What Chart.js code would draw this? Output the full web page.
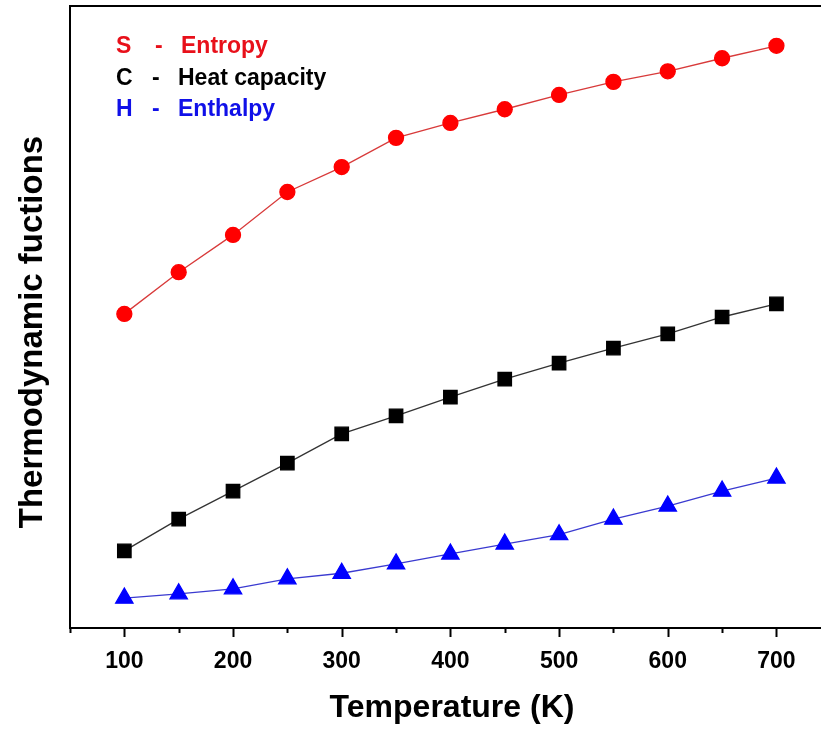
<!DOCTYPE html>
<html>
<head>
<meta charset="utf-8">
<script src="https://cdn.jsdelivr.net/npm/chart.js@4.4.1/dist/chart.umd.min.js"></script>
<style>
  html, body { margin: 0; padding: 0; background: #fff; overflow: hidden; }
  #wrap { width: 821px; height: 729px; }
</style>
</head>
<body>
<div id="wrap"><canvas id="chart"></canvas></div>
<script>
// Temperatures (K)
const temps = [100, 150, 200, 250, 300, 350, 400, 450, 500, 550, 600, 650, 700];
// Values (arbitrary units, no y scale shown)
const entropy = [50.5, 57.2, 63.2, 70.1, 74.1, 78.8, 81.2, 83.4, 85.7, 87.8, 89.5, 91.6, 93.6];
const heatCap = [12.4, 17.5, 22.0, 26.5, 31.2, 34.1, 37.1, 40.0, 42.6, 45.0, 47.3, 50.0, 52.1];
const enthalpy = [4.8, 5.5, 6.3, 7.9, 8.8, 10.3, 11.9, 13.5, 15.0, 17.5, 19.6, 22.0, 24.1];
const xTickLabels = [100, 200, 300, 400, 500, 600, 700];
const legendRows = [
  { sym: 'S', name: 'Entropy', color: '#e8101a' },
  { sym: 'C', name: 'Heat capacity', color: '#000000' },
  { sym: 'H', name: 'Enthalpy', color: '#1010e8' }
];

const FONT = '"Liberation Sans", Arial, sans-serif';

function pts(ys) {
  return temps.map((t, i) => ({ x: t, y: ys[i] }));
}

// top border, outward x ticks, axis titles and the text legend
const decor = {
  id: 'decor',
  afterDraw(chart) {
    const { ctx, chartArea: a, scales: { x } } = chart;
    ctx.save();
    ctx.strokeStyle = '#000';
    ctx.lineWidth = 2;
    ctx.beginPath();
    ctx.moveTo(a.left - 1, a.top);
    ctx.lineTo(chart.width, a.top);
    ctx.stroke();
    // ticks: long on hundreds, short on fifties
    x.ticks.forEach(t => {
      const px = Math.round(x.getPixelForValue(t.value)) + 0.5;
      const len = t.value % 100 === 0 ? 9 : 5;
      ctx.beginPath();
      ctx.moveTo(px, a.bottom);
      ctx.lineTo(px, a.bottom + len);
      ctx.stroke();
    });
    ctx.fillStyle = '#000';
    ctx.textAlign = 'center';
    ctx.textBaseline = 'middle';
    ctx.font = 'bold 32px ' + FONT;
    ctx.fillText('Temperature (K)', 452, 708);
    ctx.save();
    ctx.translate(33, 332);
    ctx.rotate(-Math.PI / 2);
    ctx.font = 'bold 33px ' + FONT;
    ctx.fillText('Thermodynamic fuctions', 0, 0);
    ctx.restore();
    // legend text
    ctx.textAlign = 'left';
    ctx.font = 'bold 23px ' + FONT;
    legendRows.forEach((r, i) => {
      const y = 47 + i * 31.5;
      ctx.fillStyle = r.color;
      ctx.fillText(r.sym, 116, y);
      ctx.fillText('-', i === 0 ? 155 : 152, y);
      ctx.fillText(r.name, i === 0 ? 181 : 178, y);
    });
    ctx.restore();
  }
};

new Chart(document.getElementById('chart'), {
  type: 'line',
  data: {
    datasets: [
      {
        label: 'S - Entropy',
        data: pts(entropy),
        borderColor: '#d83a3a',
        backgroundColor: '#ff0000',
        pointBorderColor: '#ff0000',
        pointStyle: 'circle',
        pointRadius: 7.5,
        borderWidth: 1.3
      },
      {
        label: 'C - Heat capacity',
        data: pts(heatCap),
        borderColor: '#333',
        backgroundColor: '#000',
        pointBorderColor: '#000',
        pointStyle: 'rect',
        pointRadius: 9.5,
        borderWidth: 1.3
      },
      {
        label: 'H - Enthalpy',
        data: pts(enthalpy),
        borderColor: '#3a3ad0',
        backgroundColor: '#0000ff',
        pointBorderColor: '#0000ff',
        pointStyle: 'triangle',
        pointRadius: 10,
        borderWidth: 1.3
      }
    ]
  },
  options: {
    responsive: true,
    maintainAspectRatio: false,
    animation: false,
    layout: { autoPadding: false, padding: { top: 6, right: 0, left: 70, bottom: 33 } },
    plugins: { legend: { display: false }, tooltip: { enabled: false } },
    scales: {
      x: {
        type: 'linear',
        min: 50,
        max: 741,
        afterBuildTicks: s => {
          s.ticks = [];
          for (let v = 50; v <= 700; v += 50) s.ticks.push({ value: v });
        },
        grid: { display: false, drawTicks: false },
        border: { display: true, color: '#000', width: 2 },
        ticks: {
          padding: 22.5,
          color: '#000',
          maxRotation: 0,
          autoSkip: false,
          font: { family: FONT, size: 23, weight: 'bold', lineHeight: 1 },
          callback: v => xTickLabels.includes(v) ? String(v) : ''
        },
        title: { display: false }
      },
      y: {
        min: 0,
        max: 100,
        grid: { display: false, drawTicks: false },
        border: { display: true, color: '#000', width: 2 },
        ticks: { display: false },
        title: { display: false }
      }
    }
  },
  plugins: [decor]
});
</script>
</body>
</html>
